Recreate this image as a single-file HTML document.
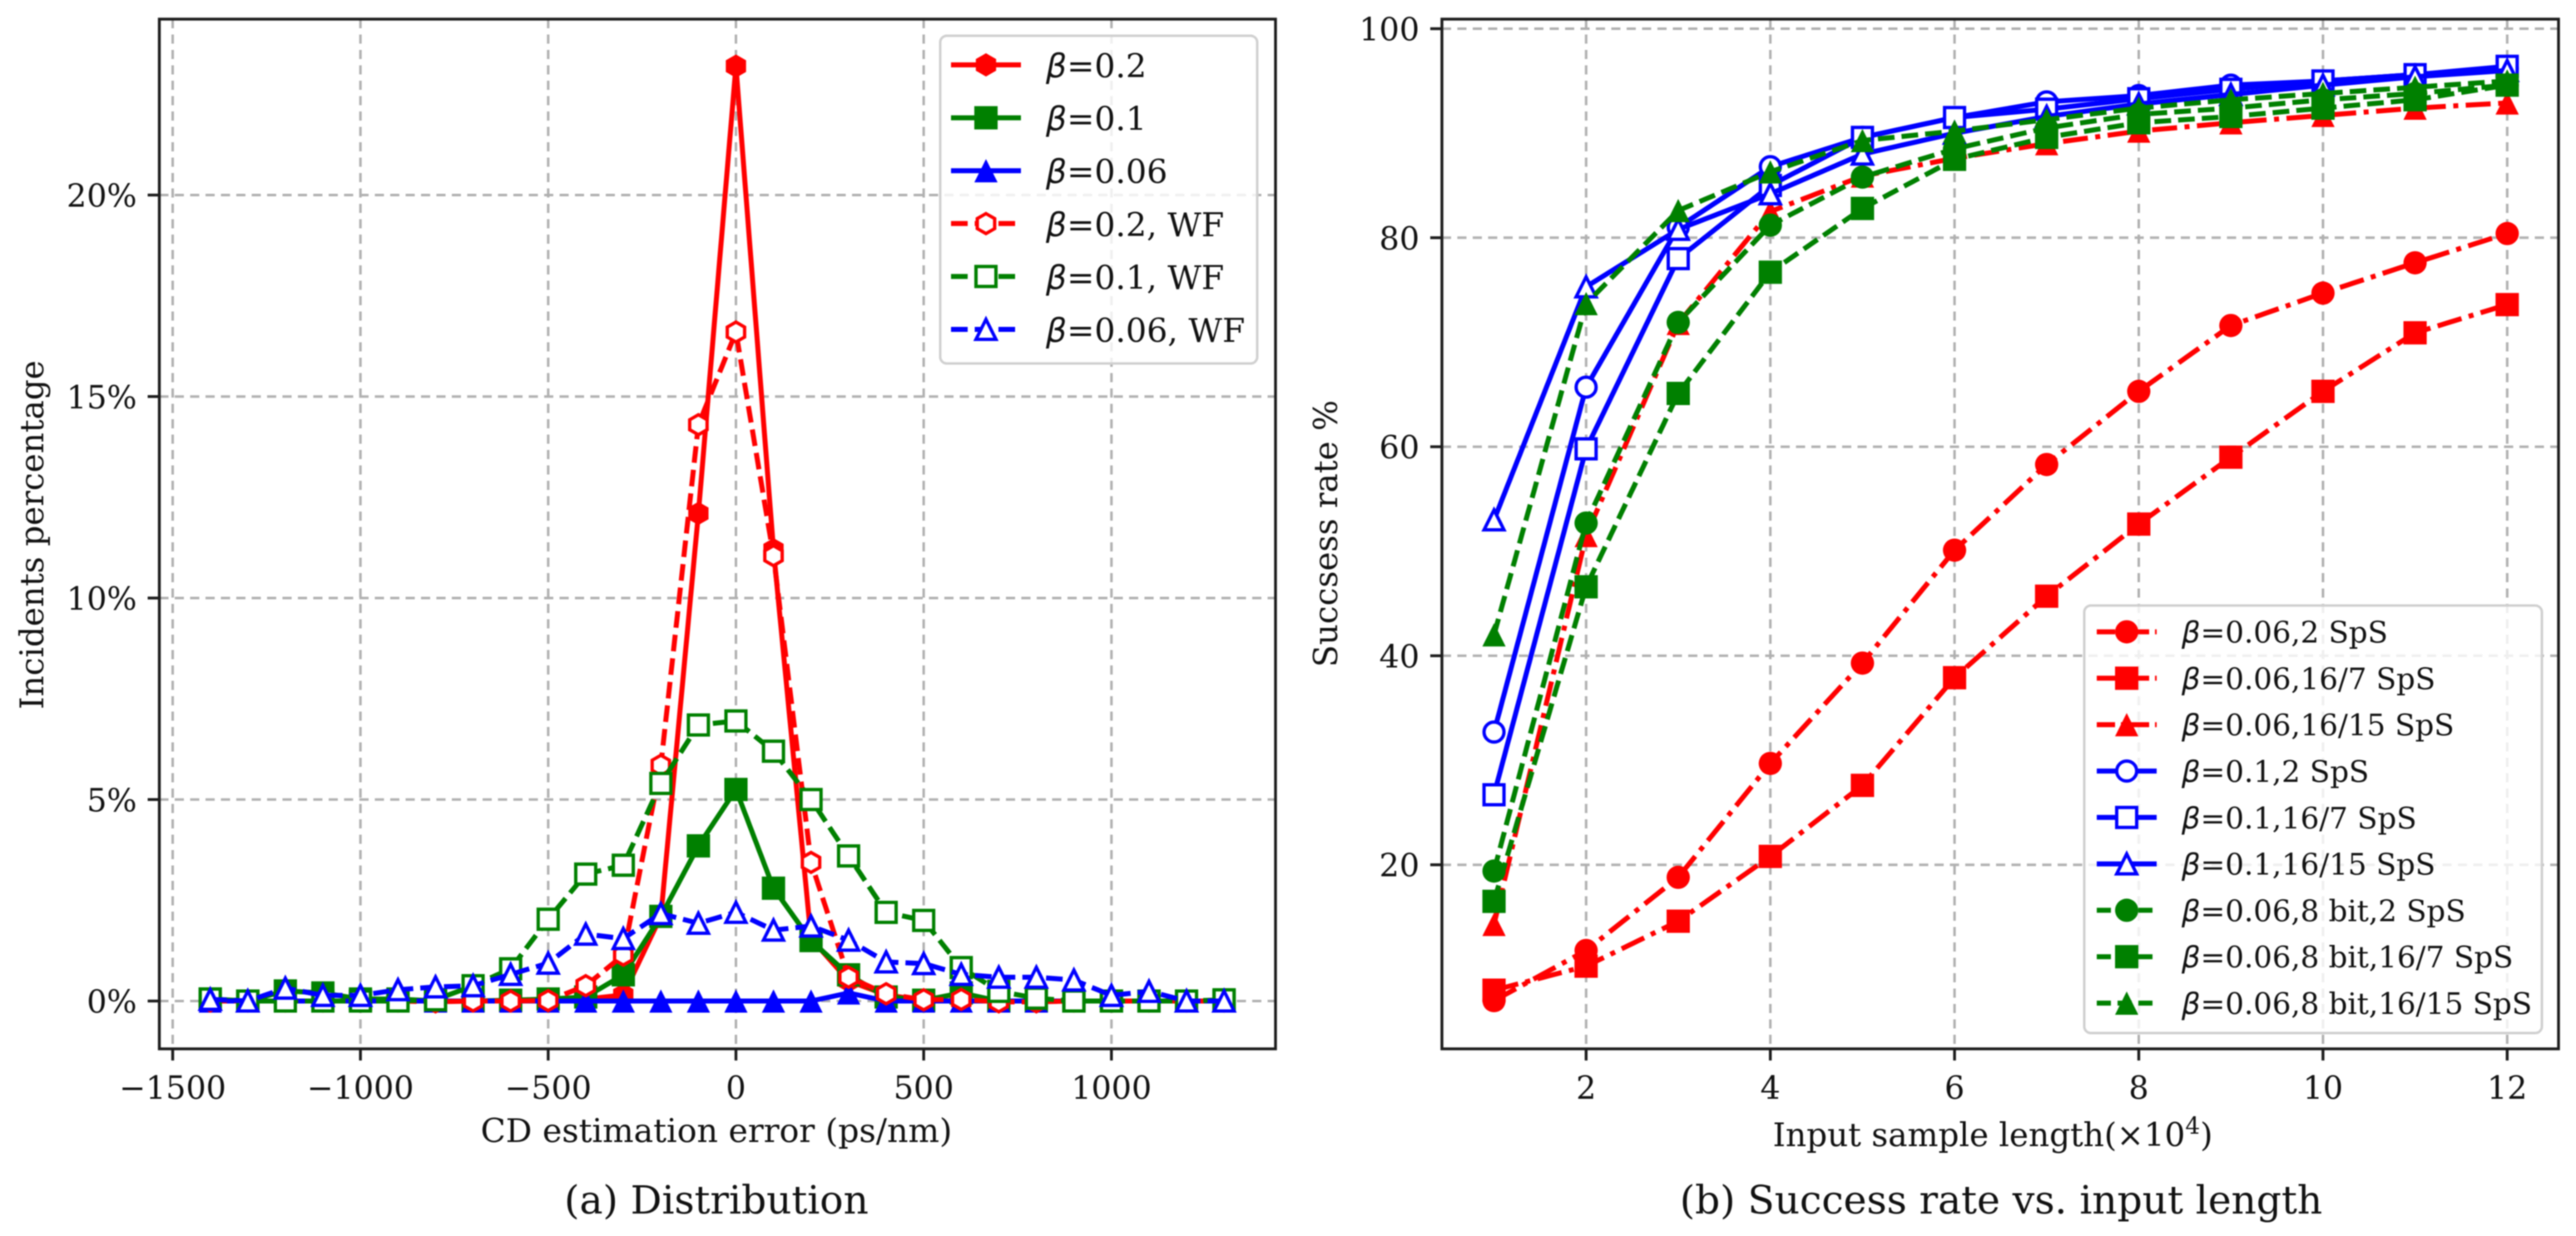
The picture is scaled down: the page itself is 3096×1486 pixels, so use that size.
<!DOCTYPE html>
<html lang="en">
<head>
<meta charset="utf-8">
<title>CD estimation distribution and success rate</title>
<style>
html,body{margin:0;padding:0;background:#fff;width:3096px;height:1486px;overflow:hidden}
svg{display:block;filter:blur(0.85px)}
text{font-family:"DejaVu Serif","Liberation Serif",serif;fill:#111}
.math{font-family:"DejaVu Sans","Liberation Sans",sans-serif;font-style:italic}
</style>
</head>
<body>
<svg id="figure" xmlns="http://www.w3.org/2000/svg" width="3096" height="1486" viewBox="0 0 3096 1486"></svg>
<script>
// ---------- Panel (a) data ----------
const errorCategories = [-1400,-1300,-1200,-1100,-1000,-900,-800,-700,-600,-500,-400,-300,-200,-100,0,100,200,300,400,500,600,700,800,900,1000,1100,1200,1300];
const beta02 = [0,0,0,0,0,0,0,0,0,0.02,0.05,0.15,2.1,12.1,23.2,11.2,1.55,0.5,0.15,0.02,0,0,0,0,0,0,0,0];
const beta01 = [0.05,0,0.25,0.2,0.05,0.05,0,0,0.02,0.05,0.1,0.65,2.1,3.85,5.25,2.8,1.5,0.65,0.1,0.02,0.2,0,0,0,0,0,0,0];
const beta006 = [0,0,0,0,0,0,0,0,0,0,0,0,0,0,0,0,0,0.2,0,0,0,0,0,0,0,0,0,0];
const beta02Wf = [0,0,0,0,0,0,-0.02,0,0,0.01,0.38,1.14,5.85,14.3,16.6,11.05,3.44,0.59,0.18,0.03,0.04,-0.02,-0.02,0,0,0,0,0];
const beta01Wf = [0.05,0,0,0,0,0,0.03,0.38,0.8,2.03,3.15,3.37,5.4,6.85,6.95,6.2,5,3.6,2.2,2,0.83,0.24,0.07,0,0,0,0,0.03];
const beta006Wf = [0.04,0,0.32,0.14,0.14,0.28,0.35,0.38,0.66,0.94,1.66,1.55,2.17,1.93,2.2,1.76,1.86,1.51,0.97,0.93,0.66,0.59,0.59,0.52,0.14,0.24,0,0];
const distXTicks = [-1500,-1000,-500,0,500,1000];
const distYTicks = [0,5,10,15,20];
const distLabels = ["β=0.2","β=0.1","β=0.06","β=0.2, WF","β=0.1, WF","β=0.06, WF"];

// ---------- Panel (b) data ----------
const lengthCategories = [1,2,3,4,5,6,7,8,9,10,11,12];
const red2Sps = [7,11.8,18.8,29.7,39.3,50.1,58.3,65.3,71.6,74.7,77.6,80.4];
const red167Sps = [8,10.3,14.6,20.8,27.6,37.9,45.7,52.6,59,65.3,70.9,73.6];
const red1615Sps = [14.3,51.5,71.8,82.5,85.9,87.6,89,90.2,91,91.7,92.4,92.9];
const blue2Sps = [32.7,65.7,81,86.8,89.6,91.5,93,93.6,94.6,95,95.6,96.2];
const blue167Sps = [26.7,59.8,78,85,89.6,91.5,92.3,93.3,94.2,95,95.6,96.4];
const blue1615Sps = [53,75.3,80.8,84.2,88,90,91.6,92.8,93.7,94.6,95.4,96];
const green2Sps = [19.4,52.7,71.9,81.2,85.8,88.5,90.5,91.8,92.4,93.2,93.8,94.6];
const green167Sps = [16.5,46.6,65.1,76.7,82.8,87.5,89.6,91,91.6,92.4,93.2,94.6];
const green1615Sps = [42,73.7,82.6,86.3,89.3,90.2,91.3,92.4,93.2,93.8,94.4,95];
const rateXTicks = [2,4,6,8,10,12];
const rateYTicks = [20,40,60,80,100];
const rateLabels = ["β=0.06,2 SpS","β=0.06,16/7 SpS","β=0.06,16/15 SpS","β=0.1,2 SpS","β=0.1,16/7 SpS","β=0.1,16/15 SpS","β=0.06,8 bit,2 SpS","β=0.06,8 bit,16/7 SpS","β=0.06,8 bit,16/15 SpS"];

// ---------- Helpers ----------
const NS = 'http://www.w3.org/2000/svg';
const root = document.getElementById('figure');
function make(tag, attrs, parent) {
  const n = document.createElementNS(NS, tag);
  for (const k in attrs) n.setAttribute(k, attrs[k]);
  parent.appendChild(n);
  return n;
}
function group(parent) { return make('g', {}, parent); }

const RED = '#ff0000', GREEN = '#008000', BLUE = '#0000ff';
const SOLID = 'none', DASH = '20 8.5', DASHDOT = '30 9 6 9';
const INK = '#1c1c1c', GRID = '#b0b0b0';

function drawMarker(parent, shape, cx, cy, color, open) {
  const s = open ? 24 : 28;
  const attrs = open
    ? {fill:'#fff', stroke:color, 'stroke-width':4, 'stroke-linejoin':'miter'}
    : {fill:color, stroke:'none'};
  let node;
  if (shape === 'o') {
    attrs.cx = cx; attrs.cy = cy; attrs.r = s / 2;
    node = make('circle', attrs, parent);
  } else if (shape === 's') {
    attrs.x = cx - s / 2; attrs.y = cy - s / 2; attrs.width = s; attrs.height = s;
    node = make('rect', attrs, parent);
  } else if (shape === '^') {
    const h = s / 2;
    attrs.points = [cx, cy - h, cx + h, cy + h, cx - h, cy + h].join(' ');
    node = make('polygon', attrs, parent);
  } else {
    const r = s / 2, w = r * 0.87;
    attrs.points = [cx, cy - r, cx + w, cy - r / 2, cx + w, cy + r / 2, cx, cy + r, cx - w, cy + r / 2, cx - w, cy - r / 2].join(' ');
    node = make('polygon', attrs, parent);
  }
  return node;
}

function drawAxes(parent, box, xTicks, yTicks, xA, yA, yFmt) {
  const gridG = group(parent);
  
  
  const tickG = group(parent);
  
  
  xTicks.forEach(v => {
    const x = xA(v);
    const g = make('line', {x1:x, x2:x, y1:box.top, y2:box.bottom, stroke:GRID, 'stroke-width':3, 'stroke-dasharray':'11 7.5'}, gridG);
    
    
    const t = make('line', {x1:x, x2:x, y1:box.bottom, y2:box.bottom + 14, stroke:INK, 'stroke-width':3.4}, tickG);
    
    
    const label = make('text', {x:x, y:box.bottom + 60, 'text-anchor':'middle', 'font-size':38}, tickG);
    label.textContent = String(v).replace('-', '\u2212');
    
    
  });
  yTicks.forEach(v => {
    const y = yA(v);
    const g = make('line', {x1:box.left, x2:box.right, y1:y, y2:y, stroke:GRID, 'stroke-width':3, 'stroke-dasharray':'11 7.5'}, gridG);
    
    
    const t = make('line', {x1:box.left - 14, x2:box.left, y1:y, y2:y, stroke:INK, 'stroke-width':3.4}, tickG);
    
    
    const label = make('text', {x:box.left - 27, y:y + 14, 'text-anchor':'end', 'font-size':38}, tickG);
    label.textContent = yFmt(v);
    
    
  });
}

function drawSeries(parent, name, cats, vals, xA, yA, s) {
  const g = group(parent);
  
  
  const pts = cats.map((c, i) => xA(c) + ',' + yA(vals[i])).join(' ');
  const line = make('polyline', {points:pts, fill:'none', stroke:s.color, 'stroke-width':6, 'stroke-linejoin':'round', 'stroke-dasharray':s.dash}, g);
  
  
  cats.forEach((c, i) => {
    const m = drawMarker(g, s.shape, xA(c), yA(vals[i]), s.color, s.open);
    
    
  });
}

function drawFrame(parent, box) {
  const f = make('rect', {x:box.left, y:box.top, width:box.right - box.left, height:box.bottom - box.top, fill:'none', stroke:INK, 'stroke-width':3.4}, parent);
  
  
}

function drawLegend(parent, lg, labels, styles) {
  const g = group(parent);
  
  
  const bg = make('rect', {x:lg.left, y:lg.top, width:lg.right - lg.left, height:lg.bottom - lg.top, rx:8, fill:'#fff', 'fill-opacity':0.8, stroke:'#d0d0d0', 'stroke-width':3}, g);
  
  
  labels.forEach((text, i) => {
    const entry = group(g);
    
    
    const y = lg.firstRow + i * lg.rowStep;
    const s = styles[i];
    let dash = s.dash === SOLID ? 'none' : (s.dash === DASH ? lg.dashShort : lg.dotShort);
    const ln = make('line', {x1:lg.hx1, x2:lg.hx2, y1:y, y2:y, stroke:s.color, 'stroke-width':6, 'stroke-dasharray':dash}, entry);
    
    
    const mk = drawMarker(entry, s.shape, (lg.hx1 + lg.hx2) / 2, y, s.color, s.open);
    
    
    const label = make('text', {x:lg.textX, y:y + lg.baseline, 'font-size':lg.size}, entry);
    
    
    const b = make('tspan', {class:'math'}, label);
    b.textContent = text[0];
    const rest = make('tspan', {}, label);
    rest.textContent = text.slice(1);
  });
}

function addText(parent, content, attrs, name) {
  const t = make('text', attrs, parent);
  t.textContent = content;
  
  
  return t;
}

// ---------- Panel (a) ----------
const boxA = {left:191.5, right:1533, top:23, bottom:1261};
const xDist = v => 884.5 + 0.4513 * v;
const yDist = v => 1203.5 - 48.45 * v;
const panelA = group(root);


drawAxes(panelA, boxA, distXTicks, distYTicks, xDist, yDist, v => v + '%');
const stylesA = [
  {color:RED, dash:SOLID, shape:'h', open:false},
  {color:GREEN, dash:SOLID, shape:'s', open:false},
  {color:BLUE, dash:SOLID, shape:'^', open:false},
  {color:RED, dash:DASH, shape:'h', open:true},
  {color:GREEN, dash:DASH, shape:'s', open:true},
  {color:BLUE, dash:DASH, shape:'^', open:true}
];
drawSeries(panelA, 'series-beta-0-2', errorCategories, beta02, xDist, yDist, stylesA[0]);
drawSeries(panelA, 'series-beta-0-1', errorCategories, beta01, xDist, yDist, stylesA[1]);
drawSeries(panelA, 'series-beta-0-06', errorCategories, beta006, xDist, yDist, stylesA[2]);
drawSeries(panelA, 'series-beta-0-2-wf', errorCategories, beta02Wf, xDist, yDist, stylesA[3]);
drawSeries(panelA, 'series-beta-0-1-wf', errorCategories, beta01Wf, xDist, yDist, stylesA[4]);
drawSeries(panelA, 'series-beta-0-06-wf', errorCategories, beta006Wf, xDist, yDist, stylesA[5]);
drawFrame(panelA, boxA);
drawLegend(panelA, {left:1130, right:1511, top:43, bottom:437, firstRow:78, rowStep:63.6, hx1:1143, hx2:1227, textX:1257, size:39.5, baseline:15, dashShort:'20 8.5', dotShort:'20 8.5'}, distLabels, stylesA);
addText(panelA, 'CD estimation error (ps/nm)', {x:861, y:1373, 'text-anchor':'middle', 'font-size':39.5}, 'x-axis-title');
addText(panelA, 'Incidents percentage', {x:0, y:0, transform:'translate(52 643) rotate(-90)', 'text-anchor':'middle', 'font-size':39}, 'y-axis-title');
addText(panelA, '(a) Distribution', {x:861, y:1459, 'text-anchor':'middle', 'font-size':47}, 'panel-a-caption');

// ---------- Panel (b) ----------
const boxB = {left:1733, right:3075, top:23, bottom:1261};
const xRate = v => 1684.9 + 110.7 * v;
const yRate = v => 1291 - 12.565 * v;
const panelB = group(root);


drawAxes(panelB, boxB, rateXTicks, rateYTicks, xRate, yRate, v => String(v));
const stylesB = [
  {color:RED, dash:DASHDOT, shape:'o', open:false},
  {color:RED, dash:DASHDOT, shape:'s', open:false},
  {color:RED, dash:DASHDOT, shape:'^', open:false},
  {color:BLUE, dash:SOLID, shape:'o', open:true},
  {color:BLUE, dash:SOLID, shape:'s', open:true},
  {color:BLUE, dash:SOLID, shape:'^', open:true},
  {color:GREEN, dash:DASH, shape:'o', open:false},
  {color:GREEN, dash:DASH, shape:'s', open:false},
  {color:GREEN, dash:DASH, shape:'^', open:false}
];
drawSeries(panelB, 'series-red-2-sps', lengthCategories, red2Sps, xRate, yRate, stylesB[0]);
drawSeries(panelB, 'series-red-16-7-sps', lengthCategories, red167Sps, xRate, yRate, stylesB[1]);
drawSeries(panelB, 'series-red-16-15-sps', lengthCategories, red1615Sps, xRate, yRate, stylesB[2]);
drawSeries(panelB, 'series-blue-2-sps', lengthCategories, blue2Sps, xRate, yRate, stylesB[3]);
drawSeries(panelB, 'series-blue-16-7-sps', lengthCategories, blue167Sps, xRate, yRate, stylesB[4]);
drawSeries(panelB, 'series-blue-16-15-sps', lengthCategories, blue1615Sps, xRate, yRate, stylesB[5]);
drawSeries(panelB, 'series-green-2-sps', lengthCategories, green2Sps, xRate, yRate, stylesB[6]);
drawSeries(panelB, 'series-green-16-7-sps', lengthCategories, green167Sps, xRate, yRate, stylesB[7]);
drawSeries(panelB, 'series-green-16-15-sps', lengthCategories, green1615Sps, xRate, yRate, stylesB[8]);
drawFrame(panelB, boxB);
drawLegend(panelB, {left:2505, right:3055, top:728, bottom:1242, firstRow:759.6, rowStep:55.8, hx1:2520, hx2:2592, textX:2622, size:35.5, baseline:13, dashShort:'17 8', dotShort:'22 7 5 7'}, rateLabels, stylesB);
const xTitleB = addText(panelB, 'Input sample length(×10', {x:2395, y:1378, 'text-anchor':'middle', 'font-size':39}, 'x-axis-title');
const sup = make('tspan', {dy:-15, 'font-size':28}, xTitleB);
sup.textContent = '4';
const closeParen = make('tspan', {dy:15}, xTitleB);
closeParen.textContent = ')';
addText(panelB, 'Succsess rate %', {x:0, y:0, transform:'translate(1607 641.5) rotate(-90)', 'text-anchor':'middle', 'font-size':39}, 'y-axis-title');
addText(panelB, '(b) Success rate vs. input length', {x:2405, y:1459, 'text-anchor':'middle', 'font-size':47}, 'panel-b-caption');
</script>
</body>
</html>
